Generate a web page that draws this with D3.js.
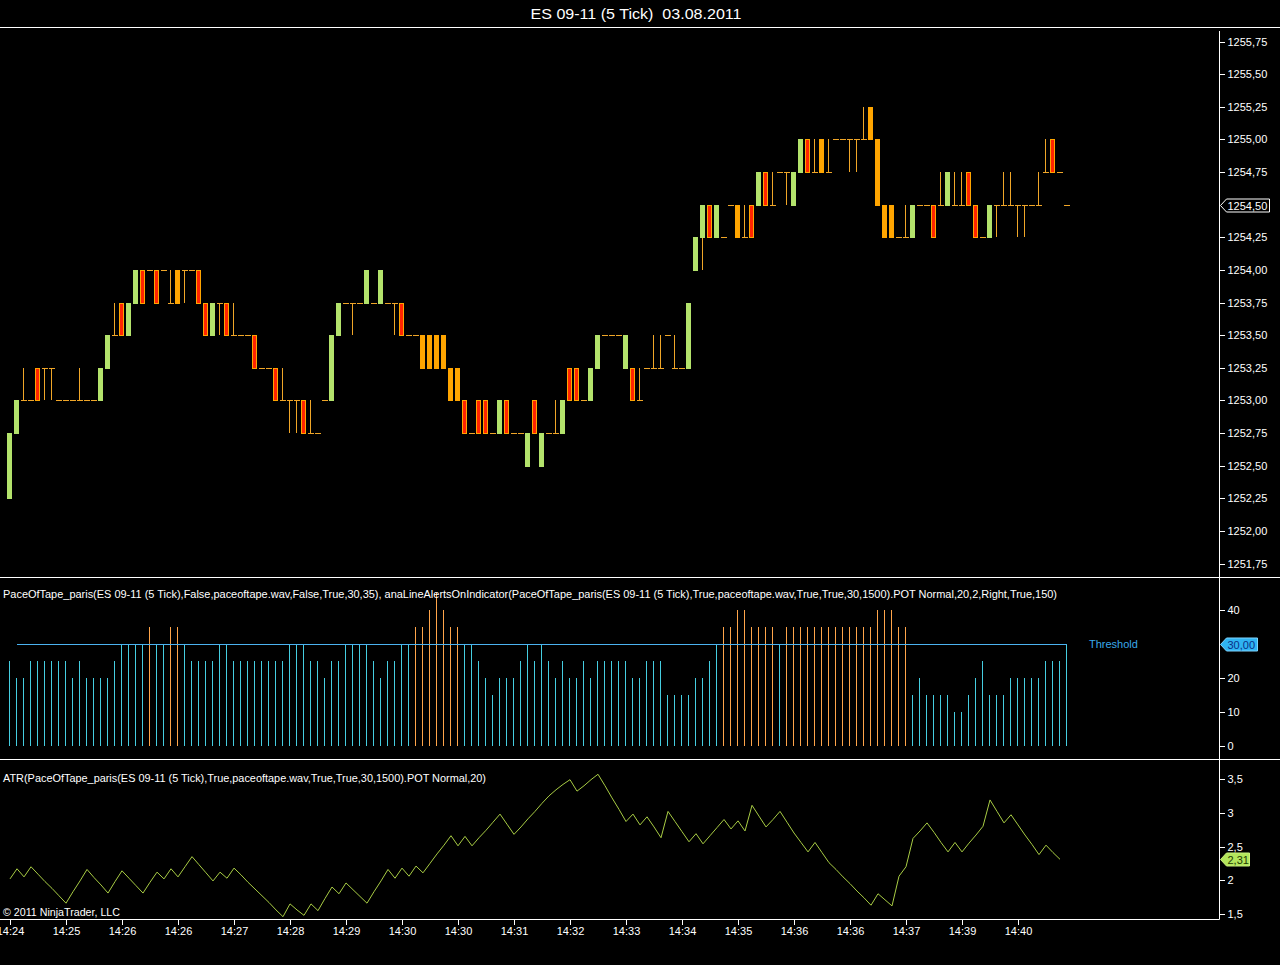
<!DOCTYPE html>
<html>
<head>
<meta charset="utf-8">
<script src="https://cdn.jsdelivr.net/npm/d3@7"></script>
<style>
  body { margin: 0; background: #000; }
  svg text { font-family: "Liberation Sans", Arial, sans-serif; }
</style>
</head>
<body>
<div id="chart"></div>
<script>
// ---- data (5 tick bars, ES 09-11, 03.08.2011) ----
const openP = [
  1252.25,1252.75,1253.00,1253.00,1253.25,1253.25,1253.25,1253.00,1253.00,1253.00,
  1253.00,1253.00,1253.00,1253.00,1253.25,1253.50,1253.75,1253.50,1253.75,1254.00,
  1254.00,1254.00,1254.00,1253.75,1254.00,1254.00,1254.00,1254.00,1253.75,1253.50,
  1253.75,1253.75,1253.50,1253.50,1253.50,1253.50,1253.25,1253.25,1253.25,1253.00,
  1253.00,1253.00,1253.00,1252.75,1252.75,1253.00,1253.00,1253.50,1253.75,1253.75,
  1253.75,1253.75,1253.75,1253.75,1253.75,1253.75,1253.75,1253.50,1253.50,1253.50,
  1253.50,1253.50,1253.50,1253.25,1253.25,1253.00,1252.75,1253.00,1253.00,1252.75,
  1252.75,1253.00,1252.75,1252.75,1252.50,1253.00,1252.50,1252.75,1252.75,1252.75,
  1253.25,1253.25,1253.00,1253.00,1253.25,1253.50,1253.50,1253.50,1253.25,1253.25,
  1253.00,1253.25,1253.25,1253.25,1253.50,1253.25,1253.25,1253.25,1254.00,1254.25,
  1254.50,1254.25,1254.25,1254.50,1254.50,1254.25,1254.50,1254.50,1254.75,1254.50,
  1254.75,1254.75,1254.50,1254.75,1255.00,1254.75,1255.00,1254.75,1255.00,1255.00,
  1255.00,1255.00,1255.00,1255.25,1255.00,1254.50,1254.50,1254.25,1254.25,1254.25,
  1254.50,1254.50,1254.50,1254.50,1254.50,1254.50,1254.50,1254.75,1254.50,1254.25,
  1254.25,1254.50,1254.50,1254.50,1254.50,1254.50,1254.50,1254.50,1254.75,1255.00,
  1254.75,1254.50
];
const highP = [
  1252.75,1253.00,1253.25,1253.00,1253.25,1253.25,1253.25,1253.00,1253.00,1253.00,
  1253.25,1253.00,1253.00,1253.25,1253.50,1253.75,1253.75,1253.75,1254.00,1254.00,
  1254.00,1254.00,1254.00,1254.00,1254.00,1254.00,1254.00,1254.00,1253.75,1253.75,
  1253.75,1253.75,1253.75,1253.50,1253.50,1253.50,1253.25,1253.25,1253.25,1253.25,
  1253.00,1253.00,1253.00,1253.00,1252.75,1253.00,1253.50,1253.75,1253.75,1253.75,
  1253.75,1254.00,1253.75,1254.00,1253.75,1253.75,1253.75,1253.50,1253.50,1253.50,
  1253.50,1253.50,1253.50,1253.25,1253.25,1253.00,1252.75,1253.00,1253.00,1252.75,
  1253.00,1253.00,1252.75,1252.75,1252.75,1253.00,1252.75,1252.75,1253.00,1253.00,
  1253.25,1253.25,1253.00,1253.25,1253.50,1253.50,1253.50,1253.50,1253.50,1253.25,
  1253.25,1253.25,1253.50,1253.50,1253.50,1253.50,1253.25,1253.75,1254.25,1254.50,
  1254.50,1254.50,1254.25,1254.50,1254.50,1254.50,1254.50,1254.75,1254.75,1254.75,
  1254.75,1254.75,1254.75,1255.00,1255.00,1255.00,1255.00,1255.00,1255.00,1255.00,
  1255.00,1255.00,1255.25,1255.25,1255.00,1254.50,1254.50,1254.25,1254.50,1254.50,
  1254.50,1254.50,1254.50,1254.75,1254.75,1254.75,1254.75,1254.75,1254.50,1254.25,
  1254.50,1254.50,1254.75,1254.75,1254.50,1254.50,1254.50,1254.75,1255.00,1255.00,
  1254.75,1254.50
];
const lowP = [
  1252.25,1252.75,1253.00,1253.00,1253.00,1253.00,1253.00,1253.00,1253.00,1253.00,
  1253.00,1253.00,1253.00,1253.00,1253.25,1253.50,1253.50,1253.50,1253.75,1253.75,
  1254.00,1253.75,1254.00,1253.75,1253.75,1253.75,1254.00,1253.75,1253.50,1253.50,
  1253.50,1253.50,1253.50,1253.50,1253.50,1253.25,1253.25,1253.25,1253.00,1253.00,
  1252.75,1252.75,1252.75,1252.75,1252.75,1253.00,1253.00,1253.50,1253.75,1253.50,
  1253.75,1253.75,1253.75,1253.75,1253.75,1253.50,1253.50,1253.50,1253.50,1253.25,
  1253.25,1253.25,1253.25,1253.00,1253.00,1252.75,1252.75,1252.75,1252.75,1252.75,
  1252.75,1252.75,1252.75,1252.75,1252.50,1252.75,1252.50,1252.75,1252.75,1252.75,
  1253.00,1253.00,1253.00,1253.00,1253.25,1253.50,1253.50,1253.50,1253.25,1253.00,
  1253.00,1253.25,1253.25,1253.25,1253.50,1253.25,1253.25,1253.25,1254.00,1254.00,
  1254.25,1254.25,1254.25,1254.50,1254.25,1254.25,1254.25,1254.50,1254.50,1254.50,
  1254.75,1254.50,1254.50,1254.75,1254.75,1254.75,1254.75,1254.75,1255.00,1255.00,
  1254.75,1254.75,1255.00,1255.00,1254.50,1254.25,1254.25,1254.25,1254.25,1254.25,
  1254.50,1254.50,1254.25,1254.50,1254.50,1254.50,1254.50,1254.50,1254.25,1254.25,
  1254.25,1254.25,1254.50,1254.50,1254.25,1254.25,1254.50,1254.50,1254.75,1254.75,
  1254.75,1254.50
];
const closeP = [
  1252.75,1253.00,1253.00,1253.00,1253.00,1253.25,1253.25,1253.00,1253.00,1253.00,
  1253.00,1253.00,1253.00,1253.25,1253.50,1253.50,1253.50,1253.75,1254.00,1253.75,
  1254.00,1253.75,1254.00,1253.75,1253.75,1254.00,1254.00,1253.75,1253.50,1253.75,
  1253.75,1253.50,1253.50,1253.50,1253.50,1253.25,1253.25,1253.25,1253.00,1253.00,
  1253.00,1253.00,1252.75,1252.75,1252.75,1253.00,1253.50,1253.75,1253.75,1253.75,
  1253.75,1254.00,1253.75,1254.00,1253.75,1253.75,1253.50,1253.50,1253.50,1253.25,
  1253.25,1253.25,1253.25,1253.00,1253.00,1252.75,1252.75,1252.75,1252.75,1252.75,
  1253.00,1252.75,1252.75,1252.75,1252.75,1252.75,1252.75,1252.75,1252.75,1253.00,
  1253.00,1253.00,1253.00,1253.25,1253.50,1253.50,1253.50,1253.50,1253.50,1253.00,
  1253.00,1253.25,1253.25,1253.25,1253.50,1253.25,1253.25,1253.75,1254.25,1254.50,
  1254.25,1254.50,1254.25,1254.50,1254.25,1254.25,1254.25,1254.75,1254.50,1254.50,
  1254.75,1254.75,1254.75,1255.00,1254.75,1254.75,1254.75,1254.75,1255.00,1255.00,
  1255.00,1255.00,1255.00,1255.00,1254.50,1254.25,1254.25,1254.25,1254.25,1254.50,
  1254.50,1254.50,1254.25,1254.50,1254.75,1254.50,1254.50,1254.50,1254.25,1254.25,
  1254.50,1254.50,1254.50,1254.50,1254.50,1254.50,1254.50,1254.50,1254.75,1254.75,
  1254.75,1254.50
];
// bars painted as pace alerts
const alertBars = [24,59,60,61,62,63,64,104,116,123,124,125,126];

// PaceOfTape values per bar
const pace = [
  25,20,20,25,25,25,25,25,25,20, 25,20,20,20,20,25,30,30,30,30,
  35,30,30,35,35,30,25,25,25,25, 30,30,25,25,25,25,25,25,25,25,
  30,30,30,25,25,20,25,25,30,30, 30,30,25,20,25,25,30,30,35,35,
  40,45,40,35,35,30,30,25,20,15, 20,20,20,25,30,25,30,25,20,25,
  20,20,25,20,25,25,25,25,25,20, 20,25,25,25,15,15,15,15,20,20,
  25,30,35,35,40,40,35,35,35,35, 30,35,35,35,35,35,35,35,35,35,
  35,35,35,35,40,40,40,35,35,15, 20,15,15,15,15,10,10,15,20,25,
  15,15,15,20,20,20,20,20,25,25, 25,30
];
const threshold = 30;

// ATR(PaceOfTape, 20)
const atr = [
  2.02,2.17,2.05,2.20,2.09,1.98,1.88,1.77,1.66,1.83,
  1.99,2.16,2.04,1.93,1.81,1.98,2.14,2.03,1.92,1.81,
  1.97,2.12,2.02,2.17,2.05,2.20,2.35,2.23,2.11,1.99,
  2.12,2.03,2.18,2.08,1.97,1.87,1.77,1.67,1.56,1.46,
  1.65,1.56,1.48,1.65,1.55,1.73,1.90,1.80,1.96,1.86,
  1.76,1.66,1.83,1.99,2.16,2.03,2.18,2.06,2.21,2.11,
  2.25,2.39,2.52,2.66,2.51,2.65,2.51,2.63,2.74,2.86,
  2.98,2.83,2.68,2.79,2.91,3.02,3.14,3.25,3.34,3.42,
  3.49,3.32,3.40,3.49,3.57,3.40,3.22,3.05,2.87,2.98,
  2.82,2.94,2.79,2.63,3.02,2.87,2.72,2.57,2.69,2.54,
  2.66,2.78,2.90,2.76,2.88,2.73,3.11,2.95,2.79,2.90,
  3.02,2.86,2.70,2.56,2.42,2.56,2.41,2.26,2.16,2.05,
  1.95,1.84,1.74,1.63,1.80,1.71,1.62,2.06,2.20,2.62,
  2.73,2.85,2.71,2.56,2.42,2.56,2.42,2.55,2.67,2.80,
  3.19,3.02,2.85,2.97,2.82,2.67,2.53,2.38,2.52,2.41,
  2.31
];

const timeLabels = ["14:24","14:25","14:26","14:26","14:27","14:28","14:29","14:30","14:30","14:31",
                    "14:32","14:33","14:34","14:35","14:36","14:36","14:37","14:39","14:40"];
const labelEvery = 8;
const priceTicks = d3.range(1251.75, 1255.76, 0.25);
const paceTicks = [0, 10, 20, 30, 40];
const atrTicks = [1.5, 2, 2.5, 3, 3.5];

// ---- layout ----
const W = 1280, H = 965;
const axisX = 1219.5;
let svg = d3.select("#chart").append("svg")
  .attr("width", W).attr("height", H);

svg.append("rect").attr("width", W).attr("height", H).attr("fill", "#000");

const n = openP.length;
const x = d3.scaleLinear().domain([0, n - 1]).range([10, 1067]);
const yP = d3.scaleLinear().domain([1251.75, 1255.75]).range([563.5, 41.5]);
const yI = d3.scaleLinear().domain([0, 40]).range([745.5, 609.5]);
const yA = d3.scaleLinear().domain([1.5, 3.5]).range([914, 779]);

const loc = d3.formatLocale({decimal: ",", thousands: ".", grouping: [3], currency: ["", ""]});
const cx = i => Math.round(x(i)) - 0.5;
const lastClose = closeP[n - 1];
const lastAtr = atr[atr.length - 1];

// frame lines
[27.5, 577.5, 759.5].forEach(y => {
  svg.append("line").attr("x1", 0).attr("x2", W).attr("y1", y).attr("y2", y)
    .attr("stroke", "#fff").attr("stroke-width", 1);
});
svg.append("line").attr("x1", 0).attr("x2", axisX).attr("y1", 919.5).attr("y2", 919.5)
  .attr("stroke", "#fff");
svg.append("line").attr("x1", axisX).attr("x2", axisX).attr("y1", 31).attr("y2", 919.5)
  .attr("stroke", "#fff");

// title
svg.append("text")
  .attr("x", 636).attr("y", 19)
  .attr("text-anchor", "middle")
  .attr("fill", "#fff").attr("font-size", "15px")
  .attr("textLength", 211).attr("lengthAdjust", "spacingAndGlyphs")
  .style("white-space", "pre")
  .text("ES 09-11 (5 Tick)  03.08.2011");

// ---- price panel ----
const bars = d3.range(n).map(i => ({
  i: i, o: openP[i], h: highP[i], l: lowP[i], c: closeP[i],
  alert: alertBars.includes(i)
}));
let gPrice = svg.append("g").attr("shape-rendering", "crispEdges");

gPrice.selectAll(".wick")
  .data(bars.filter(d => d.h > d.l))
  .enter().append("line")
    .attr("class", "wick")
    .attr("x1", d => cx(d.i)).attr("x2", d => cx(d.i))
    .attr("y1", d => yP(d.h)).attr("y2", d => yP(d.l))
    .attr("stroke", "#f0a628");

gPrice.selectAll(".dash")
  .data(bars.filter(d => d.o === d.c))
  .enter().append("line")
    .attr("class", "dash")
    .attr("x1", d => cx(d.i) - 3).attr("x2", d => cx(d.i) + 3)
    .attr("y1", d => Math.round(yP(d.o)) + 0.5).attr("y2", d => Math.round(yP(d.o)) + 0.5)
    .attr("stroke", "#f0a628");

gPrice.selectAll(".body")
  .data(bars.filter(d => d.o !== d.c))
  .enter().append("rect")
    .attr("class", "body")
    .attr("x", d => cx(d.i) - 2)
    .attr("width", 4)
    .attr("y", d => Math.round(yP(Math.max(d.o, d.c))) + 0.5)
    .attr("height", d => Math.round(yP(Math.min(d.o, d.c))) - Math.round(yP(Math.max(d.o, d.c))))
    .attr("fill", d => d.c > d.o ? "#b3e26b" : (d.alert ? "#ffa500" : "#ff2400"))
    .attr("stroke", d => d.c > d.o ? "#b3e26b" : "#ffa500");

// price axis (the last price sits in its own marker)
svg.append("g")
  .attr("transform", "translate(" + axisX + ",0)")
  .call(d3.axisRight(yP)
    .tickValues(priceTicks.filter(v => Math.abs(v - lastClose) > 1e-6))
    .tickFormat(loc.format(".2f")).tickSize(5).tickSizeOuter(0));

// ---- pace panel ----
let gPace = svg.append("g").attr("shape-rendering", "crispEdges");
svg.append("text")
  .attr("x", 3).attr("y", 598)
  .attr("fill", "#fff").attr("font-size", "11px")
  .attr("textLength", 1054).attr("lengthAdjust", "spacingAndGlyphs")
  .text("PaceOfTape_paris(ES 09-11 (5 Tick),False,paceoftape.wav,False,True,30,35), anaLineAlertsOnIndicator(PaceOfTape_paris(ES 09-11 (5 Tick),True,paceoftape.wav,True,True,30,1500).POT Normal,20,2,Right,True,150)");

gPace.selectAll(".pace")
  .data(pace)
  .enter().append("line")
    .attr("class", "pace")
    .attr("x1", (d, i) => cx(i)).attr("x2", (d, i) => cx(i))
    .attr("y1", yI(0)).attr("y2", d => yI(d))
    .attr("stroke", d => d > threshold ? "#ffa54a" : "#45cde0");

gPace.append("line")
  .attr("x1", cx(1)).attr("x2", cx(n - 1))
  .attr("y1", Math.round(yI(threshold)) + 0.5).attr("y2", Math.round(yI(threshold)) + 0.5)
  .attr("stroke", "#4bb2f0");

svg.append("text")
  .attr("x", 1089).attr("y", 648)
  .attr("fill", "#3aa8ea").attr("font-size", "11px")
  .text("Threshold");

svg.append("g")
  .attr("transform", "translate(" + axisX + ",0)")
  .call(d3.axisRight(yI)
    .tickValues(paceTicks.filter(v => v !== threshold))
    .tickFormat(d3.format("d")).tickSize(5).tickSizeOuter(0));

// ---- ATR panel ----
svg.append("text")
  .attr("x", 3).attr("y", 782)
  .attr("fill", "#fff").attr("font-size", "11px")
  .attr("textLength", 483).attr("lengthAdjust", "spacingAndGlyphs")
  .text("ATR(PaceOfTape_paris(ES 09-11 (5 Tick),True,paceoftape.wav,True,True,30,1500).POT Normal,20)");

svg.append("path")
  .datum(atr)
  .attr("fill", "none")
  .attr("stroke", "#a8cc44")
  .attr("stroke-width", 1)
  .attr("d", d3.line().x((d, i) => x(i)).y(d => yA(d)));

svg.append("g")
  .attr("transform", "translate(" + axisX + ",0)")
  .call(d3.axisRight(yA).tickValues(atrTicks).tickFormat(loc.format(".2~f")).tickSize(5).tickSizeOuter(0));

svg.append("text")
  .attr("x", 3).attr("y", 916)
  .attr("fill", "#fff").attr("font-size", "11px")
  .attr("textLength", 117).attr("lengthAdjust", "spacingAndGlyphs")
  .text("\u00a9 2011 NinjaTrader, LLC");

// ---- time axis ----
svg.append("clipPath").attr("id", "xclip")
  .append("rect").attr("x", 0).attr("y", 915).attr("width", 1219).attr("height", 50);
svg.append("g")
  .attr("clip-path", "url(#xclip)")
  .append("g")
  .attr("transform", "translate(0,919.5)")
  .call(d3.axisBottom(x)
    .tickValues(d3.range(0, n, labelEvery))
    .tickFormat((d, k) => timeLabels[k])
    .tickSize(5).tickSizeOuter(0));

// axis styling
svg.selectAll(".domain").remove();
svg.selectAll(".tick line").attr("stroke", "#fff").attr("shape-rendering", "crispEdges");
svg.selectAll(".tick text")
  .attr("fill", "#fff")
  .attr("font-size", "11px")
  .style("font-family", "\"Liberation Sans\", Arial, sans-serif");

// ---- value markers on the right axis ----
function marker(yv, label, fill, stroke, textFill, w) {
  let y = Math.round(yv) + 0.5;
  let g = svg.append("g");
  g.append("polygon")
    .attr("points", [[axisX + 1, y], [axisX + 7, y - 6.5], [axisX + w, y - 6.5],
                     [axisX + w, y + 6.5], [axisX + 7, y + 6.5]].map(p => p.join(",")).join(" "))
    .attr("fill", fill).attr("stroke", stroke);
  g.append("text")
    .attr("x", axisX + 8).attr("y", y + 4)
    .attr("fill", textFill).attr("font-size", "11px")
    .text(label);
}
marker(yP(lastClose), loc.format(".2f")(lastClose), "#000", "#fff", "#fff", 50);
marker(yI(threshold), loc.format(".2f")(threshold), "#2fb4f2", "#7fd4ff", "#0b2f86", 38);
marker(yA(lastAtr), loc.format(".2f")(lastAtr), "#b3e65c", "#c8f07a", "#1c3a00", 30);
</script>
</body>
</html>
